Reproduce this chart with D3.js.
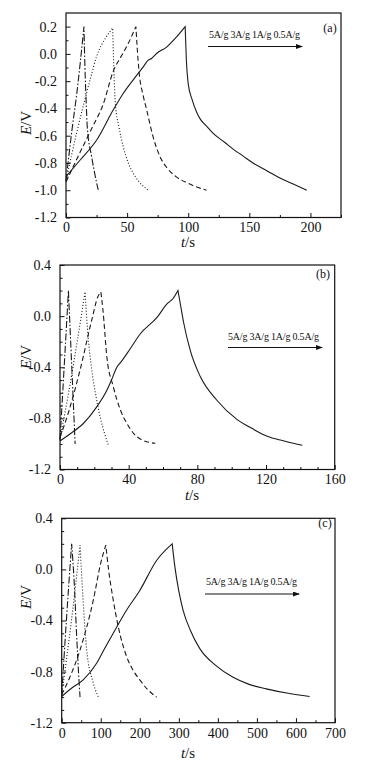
<!DOCTYPE html>
<html>
<head>
<meta charset="utf-8">
<script src="https://cdn.jsdelivr.net/npm/d3@7"></script>
<style>
  body { margin: 0; background: #fff; }
  svg { display: block; font-family: "Liberation Serif", "Times New Roman", serif; }
</style>
</head>
<body>
<div id="chart"></div>
<script>
// rate labels, order = dash-dot, dotted, dashed, solid
const rates = ['5A/g', '3A/g', '1A/g', '0.5A/g'];
const panelTags = ['(a)', '(b)', '(c)'];

// panel (a)  [t/s, E/V]
const a5 = [[0,-0.93],[5,-0.55],[8.7,-0.30],[14.7,0.2],[15.5,-0.1],[16.5,-0.35],[17.4,-0.535],[21,-0.755],[24,-0.90],[26.4,-1.0]];
const a3 = [[0,-0.93],[8.7,-0.58],[15,-0.35],[20,-0.18],[25,-0.02],[33,0.125],[38.2,0.19],[39.5,-0.2],[40.5,-0.38],[43,-0.52],[46.8,-0.68],[51,-0.80],[55,-0.875],[60,-0.94],[67.3,-1.0]];
const a1 = [[0,-0.94],[10,-0.75],[22,-0.53],[30,-0.38],[39,-0.12],[45,-0.02],[50,0.06],[57.2,0.2],[59,-0.05],[60,-0.15],[63,-0.30],[66,-0.41],[71,-0.60],[77,-0.755],[83,-0.84],[90,-0.90],[100,-0.95],[115,-1.0]];
const a05 = [[0,-0.90],[11.4,-0.78],[25.1,-0.632],[38.7,-0.41],[46.8,-0.29],[55,-0.19],[63.2,-0.095],[67.3,-0.046],[70,-0.034],[74.1,0.003],[82.3,0.05],[90.5,0.125],[97.5,0.2],[98.5,-0.05],[100,-0.22],[103,-0.33],[107,-0.43],[110,-0.48],[115,-0.53],[120,-0.58],[130,-0.65],[137,-0.70],[145,-0.75],[153,-0.80],[165,-0.86],[175,-0.91],[185,-0.95],[197,-1.0]];
const aXTicks = [0, 50, 100, 150, 200];
const aYTicks = [-1.2, -1.0, -0.8, -0.6, -0.4, -0.2, 0.0, 0.2];

// panel (b)
const b5 = [[0,-0.97],[2.5,-0.38],[4.9,0.2],[6.8,-0.38],[8.8,-1.0]];
const b3 = [[0,-0.96],[5,-0.6],[10,-0.2],[14.6,0.19],[16,-0.1],[18.5,-0.42],[21,-0.63],[23.4,-0.79],[26,-0.92],[28.2,-1.01]];
const b1 = [[0,-0.95],[5,-0.75],[11.7,-0.42],[18.5,-0.03],[22,0.15],[23.8,0.19],[25,0.05],[27.3,-0.32],[31,-0.55],[35.2,-0.735],[39,-0.84],[43,-0.92],[48,-0.97],[55.5,-0.995]];
const b05 = [[0,-0.977],[6,-0.92],[13.6,-0.84],[21.4,-0.71],[27.3,-0.58],[30,-0.50],[33.1,-0.40],[36,-0.35],[40.9,-0.255],[46.7,-0.14],[56.5,-0.01],[62.3,0.095],[66,0.14],[68.7,0.2],[70.1,0.095],[72,-0.05],[75.9,-0.27],[81.8,-0.475],[91.5,-0.66],[103.2,-0.81],[112,-0.88],[120.7,-0.94],[130,-0.975],[141.1,-1.01]];
const bXTicks = [0, 40, 80, 120, 160];
const bYTicks = [-1.2, -0.8, -0.4, 0.0, 0.4];

// panel (c)
const c5 = [[0,-0.99],[12,-0.4],[25.5,0.2],[32,-0.1],[38,-0.5],[43,-0.8],[47,-1.0]];
const c3 = [[0,-0.98],[25,-0.4],[47,0.19],[55,-0.25],[64,-0.63],[80,-0.88],[94,-1.0]];
const c1 = [[0,-0.98],[20,-0.85],[47,-0.63],[81,-0.24],[100,0.05],[113,0.19],[120,0.0],[132,-0.24],[145,-0.45],[166,-0.68],[183,-0.79],[200,-0.865],[220,-0.94],[243,-1.0]];
const c05 = [[0,-0.995],[25,-0.93],[55,-0.865],[89.5,-0.735],[110,-0.62],[132,-0.50],[166,-0.32],[200,-0.165],[243,0.07],[283,0.2],[290,0.018],[300,-0.17],[311,-0.32],[330,-0.48],[353.7,-0.62],[396,-0.755],[439,-0.845],[480,-0.90],[524,-0.935],[580,-0.97],[635,-0.995]];
const cXTicks = [0, 100, 200, 300, 400, 500, 600, 700];
const cYTicks = [-1.2, -0.8, -0.4, 0.0, 0.4];

const dashes = ['7,2,1.5,2', '1,2', '5,3', null];
const serif = '"Liberation Serif", "Times New Roman", serif';

class GcdPanel {

    constructor(_config, _series) {
        this.config = _config;
        this.series = _series;
        this.initVis();
    }

    initVis() {
        let vis = this;
        let c = vis.config;
        vis.xScale = d3.scaleLinear().domain(c.xDomain).range([c.left, c.right]);
        vis.yScale = d3.scaleLinear().domain(c.yDomain).range([c.bottom, c.top]);
        vis.g = c.svg.append('g');

        // minor ticks
        vis.g.append('g')
            .attr('transform', `translate(0, ${c.bottom})`)
            .call(d3.axisBottom(vis.xScale).tickValues(c.xMinor).tickSize(-2.5).tickFormat(''))
            .call(g => g.select('.domain').remove());
        vis.g.append('g')
            .attr('transform', `translate(${c.left}, 0)`)
            .call(d3.axisLeft(vis.yScale).tickValues(c.yMinor).tickSize(-2.5).tickFormat(''))
            .call(g => g.select('.domain').remove());

        // major ticks + labels
        vis.xAxisG = vis.g.append('g')
            .attr('transform', `translate(0, ${c.bottom})`)
            .call(d3.axisBottom(vis.xScale).tickValues(c.xTicks).tickSize(-4.5).tickPadding(5).tickFormat(d => d));
        vis.yAxisG = vis.g.append('g')
            .attr('transform', `translate(${c.left}, 0)`)
            .call(d3.axisLeft(vis.yScale).tickValues(c.yTicks).tickSize(-4.5).tickPadding(9).tickFormat(d => d.toFixed(1)));
        [vis.xAxisG, vis.yAxisG].forEach(ax => {
            ax.attr('font-family', serif).attr('font-size', 14);
            ax.select('.domain').remove();
            ax.selectAll('text').attr('fill', '#111');
        });
        vis.g.selectAll('.tick line').attr('stroke', '#111').attr('stroke-width', 1);

        // frame
        vis.g.append('rect')
            .attr('x', c.left).attr('y', c.top)
            .attr('width', c.right - c.left).attr('height', c.bottom - c.top)
            .attr('fill', 'none').attr('stroke', '#111').attr('stroke-width', 1.2);

        // axis titles
        let yt = vis.g.append('text')
            .attr('transform', `translate(${c.yTitle[0]}, ${c.yTitle[1]}) rotate(-90)`)
            .attr('text-anchor', 'middle').attr('font-size', 15).attr('fill', '#111');
        yt.append('tspan').attr('font-style', 'italic').text('E');
        yt.append('tspan').text('/V');
        let xt = vis.g.append('text')
            .attr('x', c.xTitle[0]).attr('y', c.xTitle[1])
            .attr('text-anchor', 'middle').attr('font-size', 15).attr('fill', '#111');
        xt.append('tspan').attr('font-style', 'italic').text('t');
        xt.append('tspan').text('/s');

        vis.renderVis();
    }

    renderVis() {
        let vis = this;
        let c = vis.config;
        vis.line = d3.line()
            .x(d => vis.xScale(d[0]))
            .y(d => vis.yScale(d[1]))
            .curve(d3.curveMonotoneX);

        // charge and discharge branch joined at the peak
        vis.g.selectAll('.gcd-line')
            .data(vis.series)
            .join('path')
            .attr('class', 'gcd-line')
            .attr('d', s => {
                let k = d3.maxIndex(s, d => d[1]);
                return vis.line(s.slice(0, k + 1)) + vis.line(s.slice(k)).replace('M', 'L');
            })
            .attr('fill', 'none')
            .attr('stroke', '#1a1a1a')
            .attr('stroke-width', 1.1)
            .attr('stroke-dasharray', (d, i) => dashes[i]);

        // annotation
        vis.g.append('text')
            .attr('x', c.tagPos[0]).attr('y', c.tagPos[1])
            .attr('text-anchor', 'middle').attr('font-size', 12).attr('fill', '#111')
            .text(c.tag);
        vis.g.append('text')
            .attr('x', c.ratePos[0]).attr('y', c.ratePos[1])
            .attr('font-size', 10).attr('fill', '#111')
            .attr('textLength', c.arrow[1] - c.arrow[0] - 3)
            .text(rates.join(' '));
        vis.g.append('line')
            .attr('x1', c.arrow[0]).attr('x2', c.arrow[1])
            .attr('y1', c.arrow[2]).attr('y2', c.arrow[2])
            .attr('stroke', '#111').attr('stroke-width', 1)
            .attr('marker-end', 'url(#arrow)');
    }
}

const svg = d3.select('#chart').append('svg')
    .attr('width', 376).attr('height', 764);
svg.append('rect').attr('width', 376).attr('height', 764).attr('fill', '#fff');
svg.append('defs').append('marker')
    .attr('id', 'arrow')
    .attr('markerUnits', 'userSpaceOnUse')
    .attr('markerWidth', 7).attr('markerHeight', 5)
    .attr('refX', 6).attr('refY', 2.5)
    .attr('orient', 'auto')
    .append('path').attr('d', 'M0,0L7,2.5L0,5Z').attr('fill', '#111');

new GcdPanel({
    svg: svg, left: 66, right: 341, top: 13, bottom: 217.5,
    xDomain: [0, 225], yDomain: [-1.2, 0.3],
    xTicks: aXTicks, yTicks: aYTicks,
    xMinor: d3.range(25, 226, 50), yMinor: d3.range(-11, 3, 2).map(v => v / 10),
    yTitle: [31, 123], xTitle: [188, 247],
    tag: panelTags[0], tagPos: [330, 32],
    ratePos: [209, 38], arrow: [208, 302, 46.5]
}, [a5, a3, a1, a05]);

new GcdPanel({
    svg: svg, left: 60, right: 334.7, top: 265, bottom: 469.5,
    xDomain: [0, 160], yDomain: [-1.2, 0.4],
    xTicks: bXTicks, yTicks: bYTicks,
    xMinor: d3.range(10, 160, 10).filter(v => v % 40 !== 0), yMinor: d3.range(-11, 4, 1).filter(v => v % 4 !== 0).map(v => v / 10),
    yTitle: [31, 357], xTitle: [192, 500],
    tag: panelTags[1], tagPos: [323, 278],
    ratePos: [228, 340], arrow: [228, 322, 347.5]
}, [b5, b3, b1, b05]);

new GcdPanel({
    svg: svg, left: 61.7, right: 335, top: 518.3, bottom: 722.7,
    xDomain: [0, 700], yDomain: [-1.2, 0.4],
    xTicks: cXTicks, yTicks: cYTicks,
    xMinor: d3.range(50, 700, 100), yMinor: d3.range(-11, 4, 1).filter(v => v % 4 !== 0).map(v => v / 10),
    yTitle: [31, 597], xTitle: [188, 758],
    tag: panelTags[2], tagPos: [325, 527],
    ratePos: [206, 585], arrow: [205, 299, 594]
}, [c5, c3, c1, c05]);
</script>
</body>
</html>
